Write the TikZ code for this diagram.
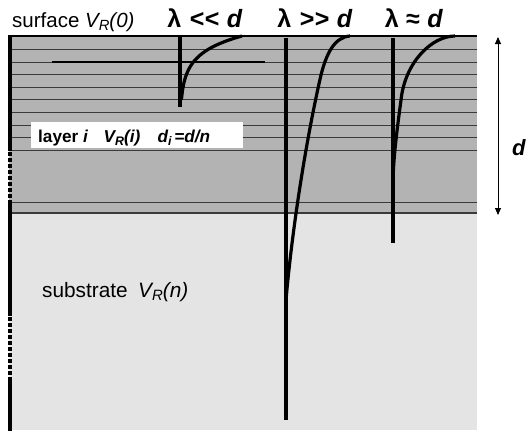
\documentclass[tikz,border=0pt]{standalone}
\usepackage{fontspec}
\setmainfont[Ligatures=NoCommon]{Liberation Sans}
\usetikzlibrary{arrows.meta}
\definecolor{darkg}{HTML}{B3B3B3}
\definecolor{lightg}{HTML}{E4E4E4}
\definecolor{lineg}{HTML}{3A3A3A}
\newcommand\lsub[1]{\raisebox{-0.35ex}{\scalebox{0.72}{#1}}}
\begin{document}
\begin{tikzpicture}[x=1pt,y=-1pt,
  layerline/.style={draw=lineg, line width=0.9pt},
  profile/.style={draw=black, line width=3.2pt},
  leftedge/.style={line width=4pt},
  leftdash/.style={line width=4pt, dash pattern=on 3.6pt off 2.4pt},
  txt/.style={inner sep=0pt, anchor=base west, font=\fontsize{20.5}{24}\selectfont},
  title/.style={inner sep=0pt, anchor=base, font=\fontsize{25}{30}\selectfont\bfseries}]
\useasboundingbox (0,0) rectangle (528,434);
% substrate and layers
\fill[lightg] (9,213) rectangle (477,430);
\fill[darkg] (9,36) rectangle (477,213);
\foreach \y in {49,62,74,87,99,112,125,137,150,202}
  \draw[layerline] (9,\y) -- (477,\y);
\draw[lineg, line width=1.4pt] (9,213) -- (477,213);
\draw[black, line width=1.5pt] (52,62) -- (265,62);
\draw[line width=2.5pt] (9,36) -- (477,36);
% left edge
\draw[leftedge] (9.5,35) -- (9.5,151);
\draw[leftdash] (9.5,152) -- (9.5,200);
\draw[leftedge] (9.5,200) -- (9.5,316);
\draw[leftdash] (9.5,317) -- (9.5,376);
\draw[leftedge] (9.5,377) -- (9.5,431);
% label box
\node[fill=white, inner sep=0pt, minimum width=212pt, minimum height=26pt, anchor=north west] (box) at (31,122) {};
\node[txt, font=\fontsize{17.2}{20}\selectfont\bfseries] (layer) at (38,142)
  {layer \textit{i}\hspace{0.9em}\textit{V\lsub{R}(i)}\hspace{1em}\textit{d\lsub{i}\,=d/n}};
% texts
\node[txt] (surf) at (12,27) {surface \textit{V\lsub{R}(0)}};
\node[txt, font=\fontsize{20.8}{24}\selectfont] (subs) at (42,297) {substrate\hspace{0.5em}\textit{V\lsub{R}(n)}};
\node[title] (t1) at (205,27) {λ\hspace{0.35em}<\kern0.3pt<\hspace{0.3em}\textit{d}};
\node[title] (t2) at (315,27) {λ\hspace{0.35em}>\kern0.3pt>\hspace{0.3em}\textit{d}};
\node[title] (t3) at (414,27) {λ\hspace{0.3em}≈\hspace{0.3em}\textit{d}};
% profiles
\draw[profile] (180,36) -- (180,107);
\draw[profile] plot[domain=0:64, samples=50] ({180+62*exp(-\x/17)}, {36+\x});
\draw[profile] (286,38) -- (286,420);
\draw[profile] (350,36) .. controls (334,37) and (326,55) .. (321,75)
  .. controls (306,140) and (292,230) .. (286,300);
\draw[profile] (393,38) -- (393,243);
\draw[profile] (455,36) .. controls (432,36) and (405,62) .. (401,100)
  .. controls (397,130) and (393,160) .. (393,185);
% thickness arrow
\coordinate (d1) at (498,37); \coordinate (d2) at (498,215);
\draw[line width=0.9pt, {Triangle[length=7pt,width=6pt]}-{Triangle[length=7pt,width=6pt]}] (d1) -- (d2);
\node[txt, font=\fontsize{22}{26}\selectfont\bfseries\itshape] (dl) at (512,155) {d};
\end{tikzpicture}
\end{document}
